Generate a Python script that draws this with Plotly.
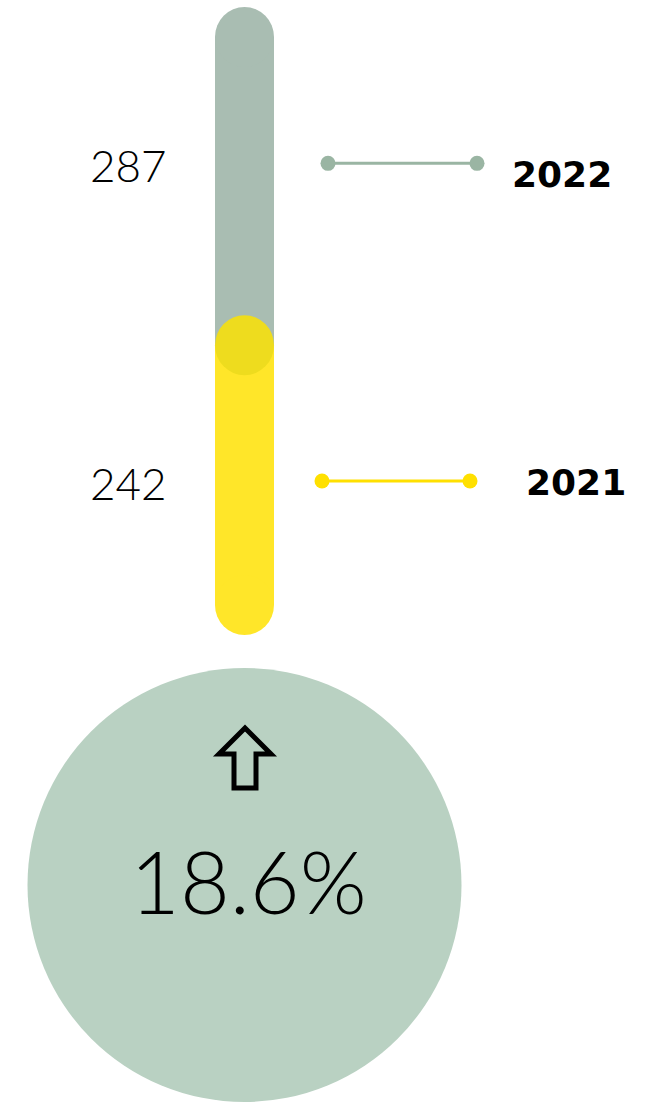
import plotly.graph_objects as go

# ---- data ----
years = ["2021", "2022"]
values = [242, 287]
value_labels = ["242", "287"]
change_label = "18.6%"

# ---- styling ----
W, H = 654, 1105
BASE_PX = 605                      # pixel row of value 0
S = 568 / sum(values)              # px per unit
XC = 244.5                         # bar centre (px)
BW = 59                            # bar width (px)
bar_colors = ["#FFE629", "#A9BDB2"]
line_colors = ["#FFE000", "#9AB5A3"]
cap_top_color = "#EEDC1E"
circle_color = "#B9D1C2"

def ypx(p):
    """convert a pixel row to y-axis units"""
    return (BASE_PX - p) / S

fig = go.Figure()

# stacked bars
bases = [0, values[0]]
for i in range(2):
    fig.add_trace(go.Bar(x=[XC], y=[values[i]], base=[bases[i]], width=BW,
                         marker=dict(color=bar_colors[i], line=dict(width=0)),
                         hoverinfo="skip", showlegend=False))

shapes = []
r_y = 30 / S
total = sum(values)
# bottom cap, top cap, top face of the yellow segment
for cy, col in [(0, bar_colors[0]), (total, bar_colors[1]), (values[0], cap_top_color)]:
    shapes.append(dict(type="circle", xref="x", yref="y",
                       x0=XC - BW / 2, x1=XC + BW / 2, y0=cy - r_y, y1=cy + r_y,
                       fillcolor=col, line=dict(width=0), layer="above"))

# big circle
R = 217
shapes.append(dict(type="circle", xref="x", yref="y",
                   x0=XC - R, x1=XC + R, y0=ypx(885 + R), y1=ypx(885 - R),
                   fillcolor=circle_color, line=dict(width=0), layer="below"))

# up arrow
pts = [(245, 728), (271, 754), (256, 754), (256, 788), (234, 788), (234, 754), (219, 754)]
path = "M " + " L ".join(f"{x},{ypx(y):.3f}" for x, y in pts) + " Z"
shapes.append(dict(type="path", xref="x", yref="y", path=path,
                   line=dict(color="black", width=5), fillcolor="rgba(0,0,0,0)",
                   layer="above"))

# connector lines + labels
label_y = [values[0] * 0.477, values[0] + values[1] * 0.59]
line_x = [(322, 470), (328, 477)]
year_x = [576, 562]
year_dy = [1.5, 11.5]
annotations = []
for i in range(2):
    fig.add_trace(go.Scatter(x=list(line_x[i]), y=[label_y[i]] * 2, mode="lines+markers",
                             line=dict(color=line_colors[i], width=3),
                             marker=dict(color=line_colors[i], size=15),
                             hoverinfo="skip", showlegend=False))
    annotations.append(dict(x=128, y=label_y[i] - 1.5 / S, xref="x", yref="y",
                            text=value_labels[i], showarrow=False,
                            font=dict(family="Lato", size=44, color="black", weight=300)))
    annotations.append(dict(x=year_x[i], y=label_y[i] - year_dy[i] / S, xref="x", yref="y",
                            text=f"<b>{years[i]}</b>", showarrow=False,
                            font=dict(family="DejaVu Sans", size=36, color="black")))

annotations.append(dict(x=248, y=ypx(880), xref="x", yref="y", text=change_label,
                        showarrow=False,
                        font=dict(family="Lato", size=86, color="black", weight=300)))

fig.update_layout(
    width=W, height=H, margin=dict(l=0, r=0, t=0, b=0),
    paper_bgcolor="white", plot_bgcolor="white",
    xaxis=dict(range=[0, W], visible=False, fixedrange=True),
    yaxis=dict(range=[ypx(H), ypx(0)], visible=False, fixedrange=True),
    shapes=shapes, annotations=annotations, barmode="overlay", bargap=0,
)

fig.write_html("out.html", config={"staticPlot": True},
               post_script="document.body.style.margin='0';")
